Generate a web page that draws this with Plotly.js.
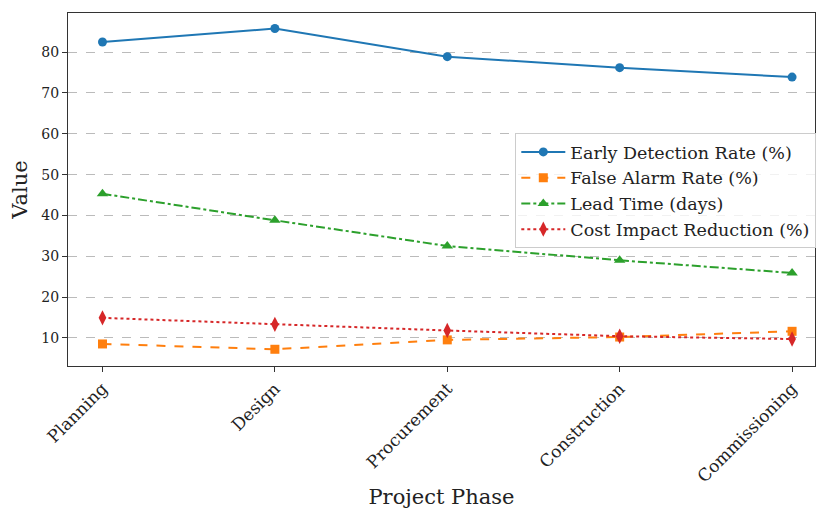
<!DOCTYPE html>
<html><head><meta charset="utf-8">
<script src="https://cdn.plot.ly/plotly-3.0.1.min.js"></script>
<style>html,body{margin:0;padding:0;background:#fff}#chart{width:817px;height:509px}</style>
</head><body><div id="chart"></div>
<script>
const phases = ["Planning", "Design", "Procurement", "Construction", "Commissioning"];
const earlyDetection = [82.5, 85.8, 78.9, 76.2, 73.9];
const falseAlarm = [8.5, 7.2, 9.5, 10.2, 11.6];
const leadTime = [45.3, 38.8, 32.5, 29.0, 25.9];
const costImpact = [14.9, 13.3, 11.8, 10.4, 9.7];
const yTicks = [10, 20, 30, 40, 50, 60, 70, 80];

const font = "DejaVu Serif, serif";
const traces = [
  {name: "Early Detection Rate (%)", y: earlyDetection, color: "#1f77b4", dash: "solid", symbol: "circle", size: 9},
  {name: "False Alarm Rate (%)", y: falseAlarm, color: "#ff7f0e", dash: "dash", symbol: "square", size: 9},
  {name: "Lead Time (days)", y: leadTime, color: "#2ca02c", dash: "dashdot", symbol: "triangle-up", size: 10},
  {name: "Cost Impact Reduction (%)", y: costImpact, color: "#d62728", dash: "dot", symbol: "diamond-tall", size: 11}
].map(t => ({
  type: "scatter", mode: "lines+markers", name: t.name,
  x: phases.map((_, i) => i), y: t.y,
  line: {color: t.color, width: 2, dash: t.dash},
  marker: {color: t.color, symbol: t.symbol, size: t.size}
}));

const layout = {
  width: 817, height: 509,
  margin: {l: 68, r: 1, t: 13, b: 143},
  paper_bgcolor: "#fff", plot_bgcolor: "#fff",
  font: {family: font, color: "#222", size: 14},
  showlegend: true,
  legend: {x: 0.598, y: 0.66, xanchor: "left", yanchor: "top",
    bgcolor: "rgba(255,255,255,0.8)", bordercolor: "#ccc", borderwidth: 1,
    itemwidth: 44,
    font: {family: font, size: 17.5, color: "#222"}, tracegroupgap: 0},
  xaxis: {
    tickmode: "array", tickvals: phases.map((_, i) => i), ticktext: phases,
    range: [-0.2, 4.133], tickangle: -45, ticks: "outside", ticklen: 5, tickcolor: "#333",
    showgrid: false, zeroline: false, showline: true, linecolor: "#333", linewidth: 1, mirror: true,
    tickfont: {family: font, size: 17},
    title: {text: "Project Phase", font: {family: font, size: 21}, standoff: 24}
  },
  yaxis: {
    range: [3.1, 89.6], tickmode: "array", tickvals: yTicks,
    ticks: "outside", ticklen: 5, tickcolor: "#333",
    showgrid: true, gridcolor: "#bbb", griddash: "dash", gridwidth: 1,
    zeroline: false, showline: true, linecolor: "#333", linewidth: 1, mirror: true,
    tickfont: {family: font, size: 14},
    title: {text: "Value", font: {family: font, size: 21}, standoff: 8}
  }
};
Plotly.newPlot("chart", traces, layout, {displayModeBar: false, staticPlot: true});
</script></body></html>
